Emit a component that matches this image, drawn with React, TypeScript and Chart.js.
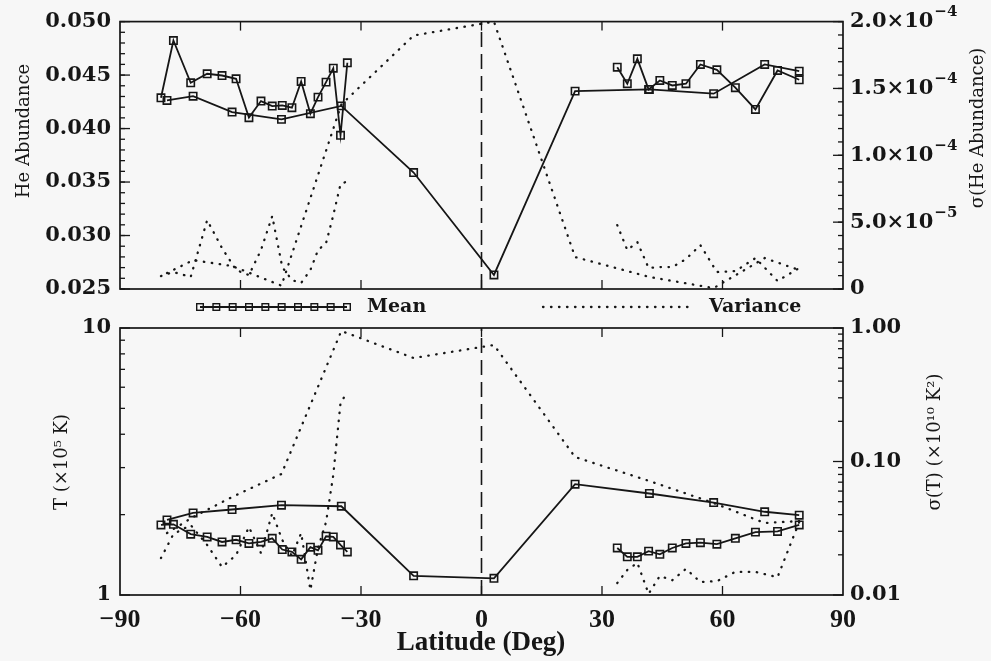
import React, { useEffect, useRef } from "react";
import { Chart, registerables } from "chart.js";

Chart.register(...registerables);

const INK = "#161616";
const BG = "#f7f7f7";

// ---- data ----
const latCoarse = [-78.3, -71.8, -62.1, -49.8, -34.9, -16.9, 3.1, 23.3, 41.8, 57.8, 70.5, 79.1];
const latSouth = [-79.8, -76.7, -72.4, -68.3, -64.6, -61.1, -57.9, -54.9, -52.1, -49.6, -47.2, -44.9, -42.6, -40.7, -38.7, -36.9, -35.1, -33.4];
const latNorth = [33.8, 36.3, 38.8, 41.6, 44.4, 47.5, 50.9, 54.5, 58.6, 63.2, 68.2, 73.7, 79.1];

const heCoarse = [0.04263, 0.04303, 0.04154, 0.04086, 0.04212, 0.03589, 0.02631, 0.0435, 0.04366, 0.04326, 0.04599, 0.04536];
const heSouth = [0.04288, 0.04823, 0.04428, 0.04512, 0.04496, 0.04465, 0.04102, 0.04257, 0.0421, 0.04216, 0.04195, 0.0444, 0.04139, 0.04294, 0.04434, 0.04564, 0.03937, 0.04615];
const heNorth = [0.04574, 0.04419, 0.04652, 0.04366, 0.0445, 0.04403, 0.04419, 0.04599, 0.04549, 0.04382, 0.04179, 0.04543, 0.04456];

const varHeCoarse = [1.19e-5, 2.16e-5, 1.72e-5, 0.25e-5, 13.8e-5, 18.96e-5, 20.0e-5, 2.39e-5, 0.9e-5, 0.07e-5, 2.31e-5, 1.42e-5];
const varHeSouth = [0.97e-5, 1.27e-5, 0.9e-5, 5.15e-5, 3.06e-5, 1.42e-5, 1.04e-5, 2.91e-5, 5.45e-5, 1.64e-5, 0.67e-5, 0.45e-5, 1.42e-5, 2.91e-5, 3.43e-5, 5.52e-5, 7.84e-5, 8.06e-5];
const varHeNorth = [4.78e-5, 2.91e-5, 3.51e-5, 1.57e-5, 1.64e-5, 1.64e-5, 2.24e-5, 3.28e-5, 1.27e-5, 1.34e-5, 2.31e-5, 0.6e-5, 1.57e-5];

const tCoarse = [1.91, 2.03, 2.09, 2.17, 2.15, 1.18, 1.155, 2.6, 2.4, 2.22, 2.05, 1.99];
const tSouth = [1.83, 1.84, 1.69, 1.65, 1.58, 1.61, 1.56, 1.58, 1.63, 1.48, 1.45, 1.36, 1.51, 1.47, 1.66, 1.65, 1.54, 1.45];
const tNorth = [1.5, 1.39, 1.39, 1.46, 1.42, 1.5, 1.56, 1.57, 1.55, 1.63, 1.72, 1.73, 1.83];

const varTCoarse = [0.0291, 0.0384, 0.0542, 0.0806, 0.95, 0.596, 0.746, 0.108, 0.0714, 0.0489, 0.0346, 0.0358];
const varTSouth = [0.0189, 0.0286, 0.0334, 0.0237, 0.0162, 0.0199, 0.0323, 0.0206, 0.0411, 0.0258, 0.0196, 0.0291, 0.0109, 0.0225, 0.0352, 0.0792, 0.274, 0.332];
const varTNorth = [0.0123, 0.0154, 0.0174, 0.0102, 0.0139, 0.0129, 0.0157, 0.0125, 0.0127, 0.0149, 0.0149, 0.0136, 0.0352];

// ---- ticks ----
const latTicks = [-90, -60, -30, 0, 30, 60, 90];
const heTicks = [0.025, 0.03, 0.035, 0.04, 0.045, 0.05];
const varHeTicks = [0, 5e-5, 1e-4, 1.5e-4, 2e-4];
const varHeTickBase = ["0", "5.0×10", "1.0×10", "1.5×10", "2.0×10"];
const varHeTickExp = ["", "−5", "−4", "−4", "−4"];
const tTicks = [1, 10];
const tTickLabels = ["1", "10"];
const varTTicks = [0.01, 0.1, 1];
const varTTickLabels = ["0.01", "0.10", "1.00"];

const range = (a: number, b: number, step: number) => {
  const out: number[] = [];
  for (let v = a; v <= b + step / 2; v += step) out.push(+v.toFixed(8));
  return out;
};
const logMinor = (decades: number[]) => {
  const out: number[] = [];
  decades.forEach((d) => { for (let k = 2; k <= 9; k++) out.push(d * k); });
  return out;
};

const pts = (xs: number[], ys: number[]) => xs.map((x, i) => ({ x, y: ys[i] }));

const TICK_FONT = { family: "'DejaVu Serif', serif", size: 21, weight: "bold" as const };
const TICK_FONT_CSS = "bold 21px 'DejaVu Serif', serif";
const EXP_FONT_CSS = "bold 15px 'DejaVu Serif', serif";
const X_FONT = { family: "'Liberation Serif', serif", size: 26, weight: "bold" as const };
const TITLE_FONT = "18px 'DejaVu Serif', serif";

const meanStyle = {
  borderColor: INK,
  borderWidth: 1.8,
  pointStyle: "rect" as const,
  pointRadius: 5.2,
  pointBorderWidth: 1.6,
  pointBorderColor: INK,
  pointBackgroundColor: "rgba(0,0,0,0)",
  fill: false,
  tension: 0,
};
const varStyle = {
  borderColor: INK,
  borderWidth: 2.3,
  borderDash: [0.5, 7.5],
  borderCapStyle: "round" as const,
  pointRadius: 0,
  fill: false,
  tension: 0,
};
const eqStyle = {
  borderColor: INK,
  borderWidth: 1.6,
  borderDash: [15, 7],
  pointRadius: 0,
  fill: false,
};

const decor = {
  id: "decor",
  afterDraw(chart: any, _args: any, o: any) {
    const { ctx, chartArea: a, scales } = chart;
    ctx.save();
    ctx.strokeStyle = INK;
    ctx.fillStyle = INK;
    ctx.setLineDash([]);
    const seg = (x1: number, y1: number, x2: number, y2: number) => {
      ctx.beginPath(); ctx.moveTo(x1, y1); ctx.lineTo(x2, y2); ctx.stroke();
    };
    ctx.lineWidth = 1.3;
    for (const v of o.xMajor) {
      const p = scales.x.getPixelForValue(v);
      seg(p, a.top, p, a.top + 9);
      seg(p, a.bottom, p, a.bottom - 9);
    }
    for (const side of o.ySides) {
      const s = scales[side.id];
      const edge = side.right ? a.right : a.left;
      const dir = side.right ? -1 : 1;
      for (const v of side.major) { const p = s.getPixelForValue(v); seg(edge, p, edge + dir * 10, p); }
      for (const v of side.minor) { const p = s.getPixelForValue(v); seg(edge, p, edge + dir * 5, p); }
    }
    ctx.lineWidth = 1.7;
    ctx.strokeRect(a.left, a.top, a.right - a.left, a.bottom - a.top);
    // exponents of the right-hand tick labels
    if (o.exponents) {
      const s = scales[o.exponents.id];
      const pad = s.options.ticks.padding;
      o.exponents.values.forEach((v: number, i: number) => {
        const e = o.exponents.exps[i];
        if (!e) return;
        ctx.font = TICK_FONT_CSS;
        const w = ctx.measureText(o.exponents.bases[i]).width;
        const p = s.getPixelForValue(v);
        ctx.font = EXP_FONT_CSS;
        ctx.textAlign = "left";
        ctx.textBaseline = "middle";
        ctx.fillText(e, a.right + pad + w + 1, p - 9);
      });
    }
    for (const t of o.titles) {
      ctx.save();
      ctx.translate(t.x, t.y);
      ctx.rotate(t.rot || 0);
      ctx.font = t.font;
      ctx.textAlign = "center";
      ctx.textBaseline = "middle";
      ctx.fillText(t.text, 0, 0);
      ctx.restore();
    }
    if (o.legend) {
      const L = o.legend;
      ctx.lineWidth = meanStyle.borderWidth;
      seg(L.meanX0, L.y, L.meanX1, L.y);
      ctx.lineWidth = 1.4;
      const n = 10;
      for (let i = 0; i < n; i++) {
        const cx = L.meanX0 + ((L.meanX1 - L.meanX0) * i) / (n - 1);
        ctx.strokeRect(cx - 3.3, L.y - 3.3, 6.6, 6.6);
      }
      ctx.save();
      ctx.lineWidth = varStyle.borderWidth;
      ctx.lineCap = "round";
      ctx.setLineDash(varStyle.borderDash);
      seg(L.varX0, L.y, L.varX1, L.y);
      ctx.restore();
      ctx.font = L.font;
      ctx.textAlign = "left";
      ctx.textBaseline = "middle";
      ctx.fillText("Mean", L.meanTextX, L.y);
      ctx.fillText("Variance", L.varTextX, L.y);
    }
    ctx.restore();
  },
};

const yScale = (extra: any) => ({
  grid: { display: false, drawTicks: false },
  border: { display: false },
  ...extra,
  ticks: { color: INK, font: TICK_FONT, autoSkip: false, maxRotation: 0, ...(extra.ticks || {}) },
});

export default function App() {
  const topRef = useRef<HTMLCanvasElement>(null);
  const botRef = useRef<HTMLCanvasElement>(null);

  useEffect(() => {
    const TOP_H = 325;
    const BOT_TOP = 305;
    const BOT_H = 661 - BOT_TOP;

    const top = new Chart(topRef.current as HTMLCanvasElement, {
      type: "line",
      data: {
        datasets: [
          { label: "Variance coarse", data: pts(latCoarse, varHeCoarse), yAxisID: "y2", ...varStyle },
          { label: "Variance south", data: pts(latSouth, varHeSouth), yAxisID: "y2", ...varStyle },
          { label: "Variance north", data: pts(latNorth, varHeNorth), yAxisID: "y2", ...varStyle },
          { label: "Mean coarse", data: pts(latCoarse, heCoarse), yAxisID: "y", ...meanStyle },
          { label: "Mean south", data: pts(latSouth, heSouth), yAxisID: "y", ...meanStyle },
          { label: "Mean north", data: pts(latNorth, heNorth), yAxisID: "y", ...meanStyle },
          { label: "equator", data: [{ x: 0, y: heTicks[0] }, { x: 0, y: heTicks[heTicks.length - 1] }], yAxisID: "y", ...eqStyle },
        ] as any,
      },
      options: {
        animation: false,
        responsive: false,
        maintainAspectRatio: false,
        layout: { padding: { top: 21, bottom: TOP_H - 289, left: 0, right: 0 } },
        plugins: {
          legend: { display: false },
          tooltip: { enabled: false },
          decor: {
            xMajor: latTicks.slice(1, -1),
            ySides: [
              { id: "y", right: false, major: heTicks, minor: range(0.025, 0.05, 0.001) },
              { id: "y2", right: true, major: varHeTicks, minor: range(0, 2e-4, 1e-5) },
            ],
            exponents: { id: "y2", values: varHeTicks, bases: varHeTickBase, exps: varHeTickExp },
            titles: [
              { text: "He Abundance", x: 24, y: 131, rot: -Math.PI / 2, font: TITLE_FONT },
              { text: "σ(He Abundance)", x: 978, y: 128, rot: -Math.PI / 2, font: TITLE_FONT },
            ],
            legend: {
              y: 307, meanX0: 200, meanX1: 347, meanTextX: 367,
              varX0: 543, varX1: 690, varTextX: 709,
              font: "bold 19px 'DejaVu Serif', serif",
            },
          },
        } as any,
        scales: {
          x: { type: "linear", min: -90, max: 90, display: false },
          y: yScale({
            type: "linear", position: "left", min: 0.025, max: 0.05,
            afterBuildTicks: (s: any) => { s.ticks = heTicks.map((v) => ({ value: v })); },
            afterFit: (s: any) => { s.width = 120; },
            ticks: { padding: 9, callback: (v: any) => Number(v).toFixed(3) },
          }),
          y2: yScale({
            type: "linear", position: "right", min: 0, max: 2e-4,
            afterBuildTicks: (s: any) => { s.ticks = varHeTicks.map((v) => ({ value: v })); },
            afterFit: (s: any) => { s.width = 991 - 843; },
            ticks: { padding: 7, callback: (_v: any, i: number) => varHeTickBase[i] },
          }),
        } as any,
      },
      plugins: [decor],
    });

    const bot = new Chart(botRef.current as HTMLCanvasElement, {
      type: "line",
      data: {
        datasets: [
          { label: "Variance coarse", data: pts(latCoarse, varTCoarse), yAxisID: "y2", ...varStyle },
          { label: "Variance south", data: pts(latSouth, varTSouth), yAxisID: "y2", ...varStyle },
          { label: "Variance north", data: pts(latNorth, varTNorth), yAxisID: "y2", ...varStyle },
          { label: "Mean coarse", data: pts(latCoarse, tCoarse), yAxisID: "y", ...meanStyle },
          { label: "Mean south", data: pts(latSouth, tSouth), yAxisID: "y", ...meanStyle },
          { label: "Mean north", data: pts(latNorth, tNorth), yAxisID: "y", ...meanStyle },
          { label: "equator", data: [{ x: 0, y: tTicks[0] }, { x: 0, y: tTicks[1] }], yAxisID: "y", ...eqStyle },
        ] as any,
      },
      options: {
        animation: false,
        responsive: false,
        maintainAspectRatio: false,
        layout: { padding: { top: 328 - BOT_TOP, bottom: 0, left: 0, right: 0 } },
        plugins: {
          legend: { display: false },
          tooltip: { enabled: false },
          decor: {
            xMajor: latTicks.slice(1, -1),
            ySides: [
              { id: "y", right: false, major: tTicks, minor: logMinor([1]) },
              { id: "y2", right: true, major: varTTicks, minor: logMinor([0.01, 0.1]) },
            ],
            titles: [
              { text: "T (×10⁵ K)", x: 62, y: 462 - BOT_TOP, rot: -Math.PI / 2, font: TITLE_FONT },
              { text: "σ(T) (×10¹⁰ K²)", x: 935, y: 442 - BOT_TOP, rot: -Math.PI / 2, font: TITLE_FONT },
              { text: "Latitude (Deg)", x: 481, y: 643 - BOT_TOP, rot: 0, font: "bold 27px 'Liberation Serif', serif" },
            ],
          },
        } as any,
        scales: {
          x: {
            type: "linear", position: "bottom", min: -90, max: 90,
            grid: { display: false, drawTicks: false },
            border: { display: false },
            afterBuildTicks: (s: any) => { s.ticks = latTicks.map((v) => ({ value: v })); },
            afterFit: (s: any) => { s.height = BOT_H - (595 - BOT_TOP); },
            ticks: {
              color: INK, font: X_FONT, padding: 10, autoSkip: false, maxRotation: 0,
              callback: (v: any) => (Number(v) < 0 ? "−" + Math.abs(Number(v)) : String(v)),
            },
          },
          y: yScale({
            type: "logarithmic", position: "left", min: 1, max: 10,
            afterBuildTicks: (s: any) => { s.ticks = tTicks.map((v) => ({ value: v })); },
            afterFit: (s: any) => { s.width = 120; },
            ticks: { padding: 9, callback: (_v: any, i: number) => tTickLabels[i] },
          }),
          y2: yScale({
            type: "logarithmic", position: "right", min: 0.01, max: 1,
            afterBuildTicks: (s: any) => { s.ticks = varTTicks.map((v) => ({ value: v })); },
            afterFit: (s: any) => { s.width = 991 - 843; },
            ticks: { padding: 7, callback: (_v: any, i: number) => varTTickLabels[i] },
          }),
        } as any,
      },
      plugins: [decor],
    });

    return () => {
      top.destroy();
      bot.destroy();
    };
  }, []);

  return (
    <div style={{ position: "absolute", left: 0, top: 0, width: 991, height: 661, background: BG, overflow: "hidden" }}>
      <canvas ref={topRef} width={991} height={325} style={{ position: "absolute", left: 0, top: 0, width: 991, height: 325 }} />
      <canvas ref={botRef} width={991} height={661 - 305} style={{ position: "absolute", left: 0, top: 305, width: 991, height: 661 - 305 }} />
    </div>
  );
}
